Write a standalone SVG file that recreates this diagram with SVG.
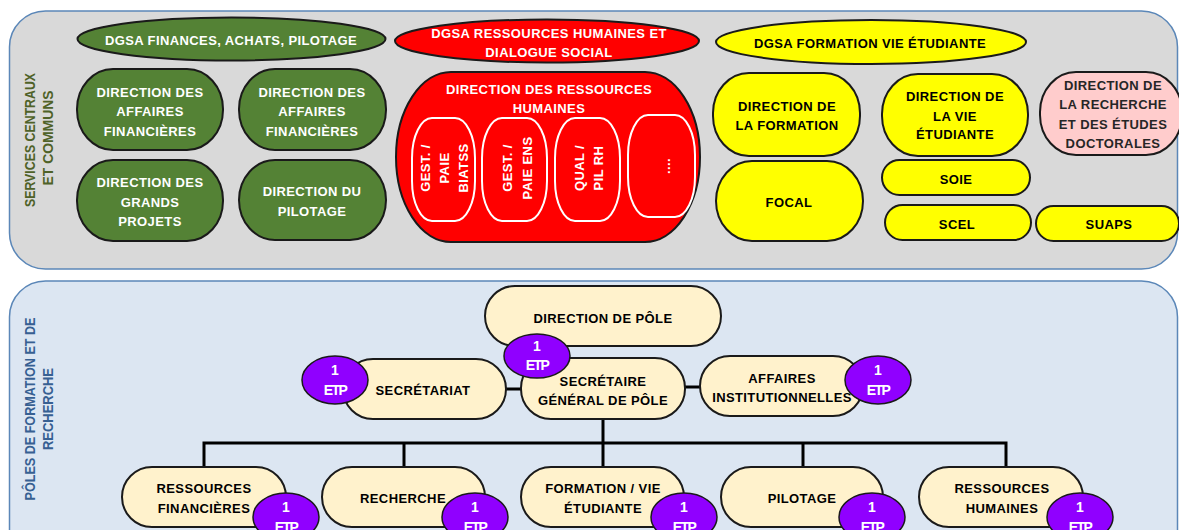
<svg xmlns="http://www.w3.org/2000/svg" width="1179" height="530" viewBox="0 0 1179 530">
<style>
.t{font-family:"Liberation Sans",Arial,sans-serif;font-weight:bold;font-size:13px;letter-spacing:0.4px;text-anchor:middle;dominant-baseline:central}
.w{fill:#ffffff}.k{fill:#000000}.g{fill:#262626}
.gr{fill:#548235;stroke:#1a1a1a;stroke-width:2}
.rd{fill:#ff0000;stroke:#1a1a1a;stroke-width:2}
.yl{fill:#ffff00;stroke:#1a1a1a;stroke-width:2}
.pk{fill:#ffcccc;stroke:#1a1a1a;stroke-width:2}
.cr{fill:#fff2cc;stroke:#1a1a1a;stroke-width:2}
.in{fill:none;stroke:#ffffff;stroke-width:2}
.etp{fill:#9000ff;stroke:#1a1a1a;stroke-width:1.5}
.et{font-family:"Liberation Sans",Arial,sans-serif;font-weight:bold;font-size:14px;fill:#ffffff;text-anchor:middle;dominant-baseline:central}
.side{font-family:"Liberation Sans",Arial,sans-serif;font-weight:bold;font-size:14px;text-anchor:middle;dominant-baseline:central}
.ln{fill:none;stroke:#000000;stroke-width:3}
</style>
<g id="panel-services">
<rect x="9.5" y="11" width="1168" height="258" rx="36" fill="#d9d9d9" stroke="#5b87b8" stroke-width="1.5"/>
<text class="side" fill="#4f6228" transform="translate(30,140) rotate(-90)" textLength="134" lengthAdjust="spacingAndGlyphs">SERVICES CENTRAUX</text>
<text class="side" fill="#4f6228" transform="translate(48,138) rotate(-90)" textLength="95" lengthAdjust="spacingAndGlyphs">ET COMMUNS</text>
</g>
<g id="panel-poles">
<rect x="9.5" y="281" width="1168" height="290" rx="36" fill="#dce6f2" stroke="#5b87b8" stroke-width="1.5"/>
<text class="side" fill="#376092" transform="translate(30,409) rotate(-90)" textLength="183" lengthAdjust="spacingAndGlyphs">PÔLES DE FORMATION ET DE</text>
<text class="side" fill="#376092" transform="translate(48,409) rotate(-90)" textLength="82" lengthAdjust="spacingAndGlyphs">RECHERCHE</text>
</g>
<g id="connectors">
<line class="ln" x1="506" y1="389" x2="521" y2="389"/>
<line class="ln" x1="685" y1="387" x2="700" y2="387"/>
<line class="ln" x1="603" y1="419" x2="603" y2="467"/>
<polyline class="ln" points="204,467 204,443 1006,443 1006,467"/>
<line class="ln" x1="404" y1="443" x2="404" y2="467"/>
<line class="ln" x1="803" y1="443" x2="803" y2="467"/>
</g>
<g id="dgsa-finances"><ellipse class="gr" cx="231.5" cy="39" rx="154" ry="21.5"/><text class="t w" x="231" y="40">DGSA FINANCES, ACHATS, PILOTAGE</text></g>
<g id="daf-1"><rect class="gr" x="77" y="69" width="146" height="81" rx="36" ry="40"/><text class="t w" x="150" y="92">DIRECTION DES</text><text class="t w" x="150" y="111">AFFAIRES</text><text class="t w" x="150" y="131">FINANCIÈRES</text></g>
<g id="daf-2"><rect class="gr" x="239" y="69" width="147" height="81" rx="36" ry="40"/><text class="t w" x="312" y="92">DIRECTION DES</text><text class="t w" x="312" y="111">AFFAIRES</text><text class="t w" x="312" y="131">FINANCIÈRES</text></g>
<g id="dgp"><rect class="gr" x="77" y="160" width="146" height="81" rx="36" ry="40"/><text class="t w" x="150" y="182">DIRECTION DES</text><text class="t w" x="150" y="202">GRANDS</text><text class="t w" x="150" y="221">PROJETS</text></g>
<g id="dp"><rect class="gr" x="239" y="160" width="147" height="80" rx="36" ry="40"/><text class="t w" x="312" y="191">DIRECTION DU</text><text class="t w" x="312" y="211">PILOTAGE</text></g>
<g id="dgsa-rh"><ellipse class="rd" cx="547" cy="41" rx="152" ry="21.5"/><text class="t w" x="549" y="33">DGSA RESSOURCES HUMAINES ET</text><text class="t w" x="549" y="52">DIALOGUE SOCIAL</text></g>
<g id="drh"><rect class="rd" x="396" y="72" width="304" height="170" rx="55" ry="85"/><text class="t w" x="549" y="89">DIRECTION DES RESSOURCES</text><text class="t w" x="549" y="108">HUMAINES</text>
<rect class="in" x="412" y="118" width="63" height="103" rx="20" ry="40"/>
<rect class="in" x="482" y="118" width="65" height="103" rx="20" ry="40"/>
<rect class="in" x="555" y="118" width="65" height="103" rx="20" ry="40"/>
<rect class="in" x="628" y="115" width="67" height="102" rx="20" ry="40"/>
<text class="t w" transform="translate(425,168) rotate(-90)">GEST. /</text>
<text class="t w" transform="translate(444,168) rotate(-90)">PAIE</text>
<text class="t w" transform="translate(463,168) rotate(-90)">BIATSS</text>
<text class="t w" transform="translate(507,168) rotate(-90)">GEST. /</text>
<text class="t w" transform="translate(527,168) rotate(-90)">PAIE ENS</text>
<text class="t w" transform="translate(579,168) rotate(-90)">QUAL /</text>
<text class="t w" transform="translate(598,168) rotate(-90)">PIL RH</text>
<text class="t w" transform="translate(665,166) rotate(-90)">....</text>
</g>
<g id="dgsa-fve"><ellipse class="yl" cx="871" cy="42" rx="155" ry="22"/><text class="t k" x="870" y="43">DGSA FORMATION VIE ÉTUDIANTE</text></g>
<g id="dir-formation"><rect class="yl" x="713" y="73" width="147" height="83" rx="36" ry="40"/><text class="t k" x="787" y="106">DIRECTION DE</text><text class="t k" x="787" y="125">LA FORMATION</text></g>
<g id="focal"><rect class="yl" x="716" y="161" width="147" height="80" rx="36" ry="40"/><text class="t k" x="789" y="202">FOCAL</text></g>
<g id="dir-vie-etudiante"><rect class="yl" x="882" y="74" width="146" height="82" rx="36" ry="40"/><text class="t k" x="955" y="96">DIRECTION DE</text><text class="t k" x="955" y="116">LA VIE</text><text class="t k" x="955" y="134">ÉTUDIANTE</text></g>
<g id="soie"><rect class="yl" x="882" y="160" width="148" height="35" rx="17.5"/><text class="t k" x="956" y="179">SOIE</text></g>
<g id="scel"><rect class="yl" x="885" y="205" width="146" height="35" rx="17.5"/><text class="t k" x="957" y="224">SCEL</text></g>
<g id="suaps"><rect class="yl" x="1036" y="206" width="143" height="35" rx="17.5"/><text class="t k" x="1109" y="224">SUAPS</text></g>
<g id="dir-recherche"><rect class="pk" x="1040" y="72" width="142" height="83" rx="36" ry="40"/><text class="t g" x="1113" y="85">DIRECTION DE</text><text class="t g" x="1113" y="104">LA RECHERCHE</text><text class="t g" x="1113" y="124">ET DES ÉTUDES</text><text class="t g" x="1113" y="143">DOCTORALES</text></g>
<g id="direction-pole"><rect class="cr" x="485" y="286" width="236" height="60" rx="30"/><text class="t k" x="603" y="318">DIRECTION DE PÔLE</text></g>
<g id="secretariat"><rect class="cr" x="343" y="359" width="163" height="60" rx="30"/><text class="t k" x="423" y="390">SECRÉTARIAT</text></g>
<g id="secretaire-general"><rect class="cr" x="521" y="358" width="164" height="61" rx="30"/><text class="t k" x="603" y="381">SECRÉTAIRE</text><text class="t k" x="603" y="400">GÉNÉRAL DE PÔLE</text></g>
<g id="affaires-institutionnelles"><rect class="cr" x="700" y="356" width="163" height="60" rx="30"/><text class="t k" x="782" y="378">AFFAIRES</text><text class="t k" x="782" y="397">INSTITUTIONNELLES</text></g>
<g id="ress-fin"><rect class="cr" x="122" y="467" width="164" height="60" rx="30"/><text class="t k" x="204" y="488">RESSOURCES</text><text class="t k" x="204" y="508">FINANCIÈRES</text></g>
<g id="recherche"><rect class="cr" x="322" y="467" width="163" height="60" rx="30"/><text class="t k" x="403" y="498">RECHERCHE</text></g>
<g id="formation-vie"><rect class="cr" x="521" y="467" width="163" height="60" rx="30"/><text class="t k" x="603" y="488">FORMATION / VIE</text><text class="t k" x="603" y="508">ÉTUDIANTE</text></g>
<g id="pilotage"><rect class="cr" x="721" y="467" width="162" height="60" rx="30"/><text class="t k" x="802" y="498">PILOTAGE</text></g>
<g id="ress-hum"><rect class="cr" x="919" y="467" width="164" height="60" rx="30"/><text class="t k" x="1002" y="488">RESSOURCES</text><text class="t k" x="1002" y="508">HUMAINES</text></g>
<g id="etp-secretariat"><ellipse class="etp" cx="335" cy="380" rx="33" ry="24"/><text class="et" x="335" y="370">1</text><text class="et" x="335" y="390" letter-spacing="-1.5">ETP</text></g>
<g id="etp-sg"><ellipse class="etp" cx="537" cy="356" rx="33" ry="22"/><text class="et" x="537" y="346">1</text><text class="et" x="537" y="365" letter-spacing="-1.5">ETP</text></g>
<g id="etp-aff"><ellipse class="etp" cx="878" cy="380" rx="33" ry="24"/><text class="et" x="878" y="370">1</text><text class="et" x="878" y="390" letter-spacing="-1.5">ETP</text></g>
<g id="etp-rf"><ellipse class="etp" cx="286" cy="517" rx="33" ry="24"/><text class="et" x="286" y="507">1</text><text class="et" x="286" y="527" letter-spacing="-1.5">ETP</text></g>
<g id="etp-rech"><ellipse class="etp" cx="475" cy="517" rx="33" ry="24"/><text class="et" x="475" y="507">1</text><text class="et" x="475" y="527" letter-spacing="-1.5">ETP</text></g>
<g id="etp-form"><ellipse class="etp" cx="684" cy="517" rx="33" ry="24"/><text class="et" x="684" y="507">1</text><text class="et" x="684" y="527" letter-spacing="-1.5">ETP</text></g>
<g id="etp-pil"><ellipse class="etp" cx="872" cy="517" rx="33" ry="24"/><text class="et" x="872" y="507">1</text><text class="et" x="872" y="527" letter-spacing="-1.5">ETP</text></g>
<g id="etp-rh"><ellipse class="etp" cx="1080" cy="517" rx="33" ry="24"/><text class="et" x="1080" y="507">1</text><text class="et" x="1080" y="527" letter-spacing="-1.5">ETP</text></g>
</svg>
